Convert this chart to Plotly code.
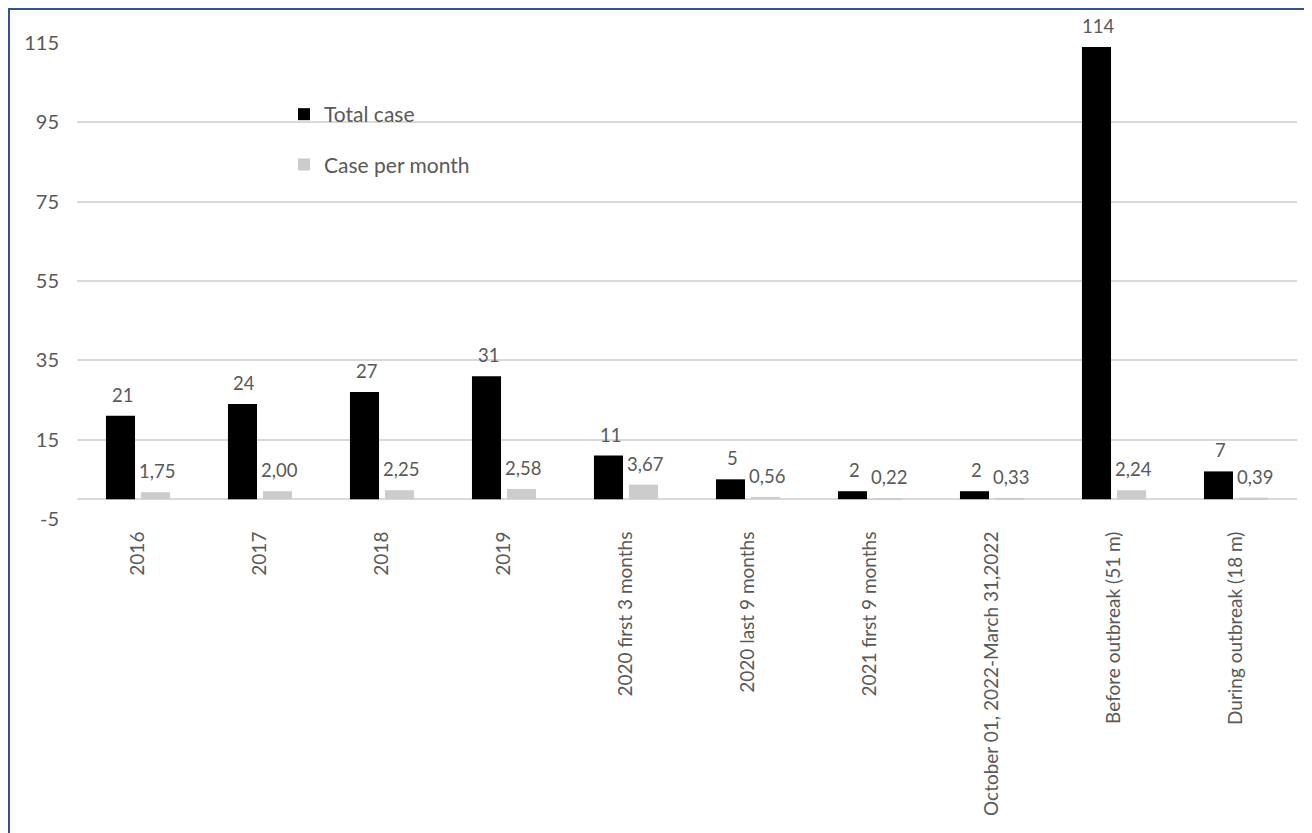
import plotly.graph_objects as go

categories = ["2016", "2017", "2018", "2019", "2020 first 3 months", "2020 last 9 months",
              "2021 first 9 months", "October 01, 2022-March 31,2022",
              "Before outbreak (51 m)", "During outbreak (18 m)"]
total_case = [21, 24, 27, 31, 11, 5, 2, 2, 114, 7]
case_per_month = [1.75, 2.00, 2.25, 2.58, 3.67, 0.56, 0.22, 0.33, 2.24, 0.39]
y_tickvals = [-5, 15, 35, 55, 75, 95, 115]
y_ticktext = ["-5", "15", "35", "55", "75", "95", "115"]

# page has an 8px body margin, so figure coords = screen coords - 8
W, H = 1304, 825
ML, MT = 69, 35
PR, PB = 1289, 511           # plot right / bottom in figure px
MR, MB = W - PR, H - PB
PW, PH = PR - ML, PB - MT

FONT = "Lato, 'Open Sans', sans-serif"
TXT = "#595959"
GRID = "#d9d9d9"

fig = go.Figure()
fig.add_trace(go.Bar(x=categories, y=total_case, name="Total case",
                     marker=dict(color="#000000", line=dict(width=0)),
                     legendgroup="a"))
fig.add_trace(go.Bar(x=categories, y=case_per_month, name="Case per month",
                     marker=dict(color="#cccccc", line=dict(width=0)),
                     legendgroup="b"))

annotations = []
for i, v in enumerate(total_case):
    annotations.append(dict(x=i, y=v, xref="x", yref="y", text=str(v), showarrow=False,
                            xshift=-16, yshift=21, font=dict(size=18.5, color=TXT, family=FONT)))
for i, v in enumerate(case_per_month):
    annotations.append(dict(x=i, y=v, xref="x", yref="y", text=f"{v:.2f}".replace(".", ","),
                            showarrow=False, xshift=19, yshift=21,
                            font=dict(size=18.5, color=TXT, family=FONT)))

BLUE = "#2f5597"


def px_x(p):
    return (p - ML) / PW


def px_y(p):
    return (PB - p) / PH


shapes = [
    dict(type="line", xref="paper", yref="paper",
         x0=px_x(0), x1=px_x(W), y0=px_y(1), y1=px_y(1),
         line=dict(color=BLUE, width=2)),
    dict(type="line", xref="paper", yref="paper",
         x0=px_x(1), x1=px_x(1), y0=px_y(0), y1=px_y(H),
         line=dict(color=BLUE, width=2)),
]

fig.update_layout(
    width=W, height=H,
    margin=dict(l=ML, r=MR, t=MT, b=MB),
    paper_bgcolor="white", plot_bgcolor="white",
    barmode="group", bargap=0.426, bargroupgap=0.17,
    separators=",.",
    font=dict(family=FONT, size=18, color=TXT),
    showlegend=True,
    legend=dict(x=px_x(276), y=px_y(86), xanchor="left", yanchor="top",
                bgcolor="rgba(0,0,0,0)", font=dict(size=21, color=TXT, family=FONT),
                tracegroupgap=20, itemwidth=30),
    annotations=annotations,
    shapes=shapes,
    xaxis=dict(type="category", range=[-0.5, len(categories) - 0.5],
               tickangle=-90, showgrid=False, showline=False,
               ticks="outside", ticklen=4, tickcolor="rgba(0,0,0,0)",
               tickfont=dict(size=19, color=TXT, family=FONT)),
    yaxis=dict(range=[-5, 115], tickvals=y_tickvals, ticktext=y_ticktext,
               showgrid=True, gridcolor=GRID, gridwidth=1.5,
               zeroline=True, zerolinecolor=GRID, zerolinewidth=1.5,
               showline=False, ticks="outside", ticklen=13, tickcolor="rgba(0,0,0,0)",
               tickfont=dict(size=20, color=TXT, family=FONT)),
)

fig.write_html("out.html")
